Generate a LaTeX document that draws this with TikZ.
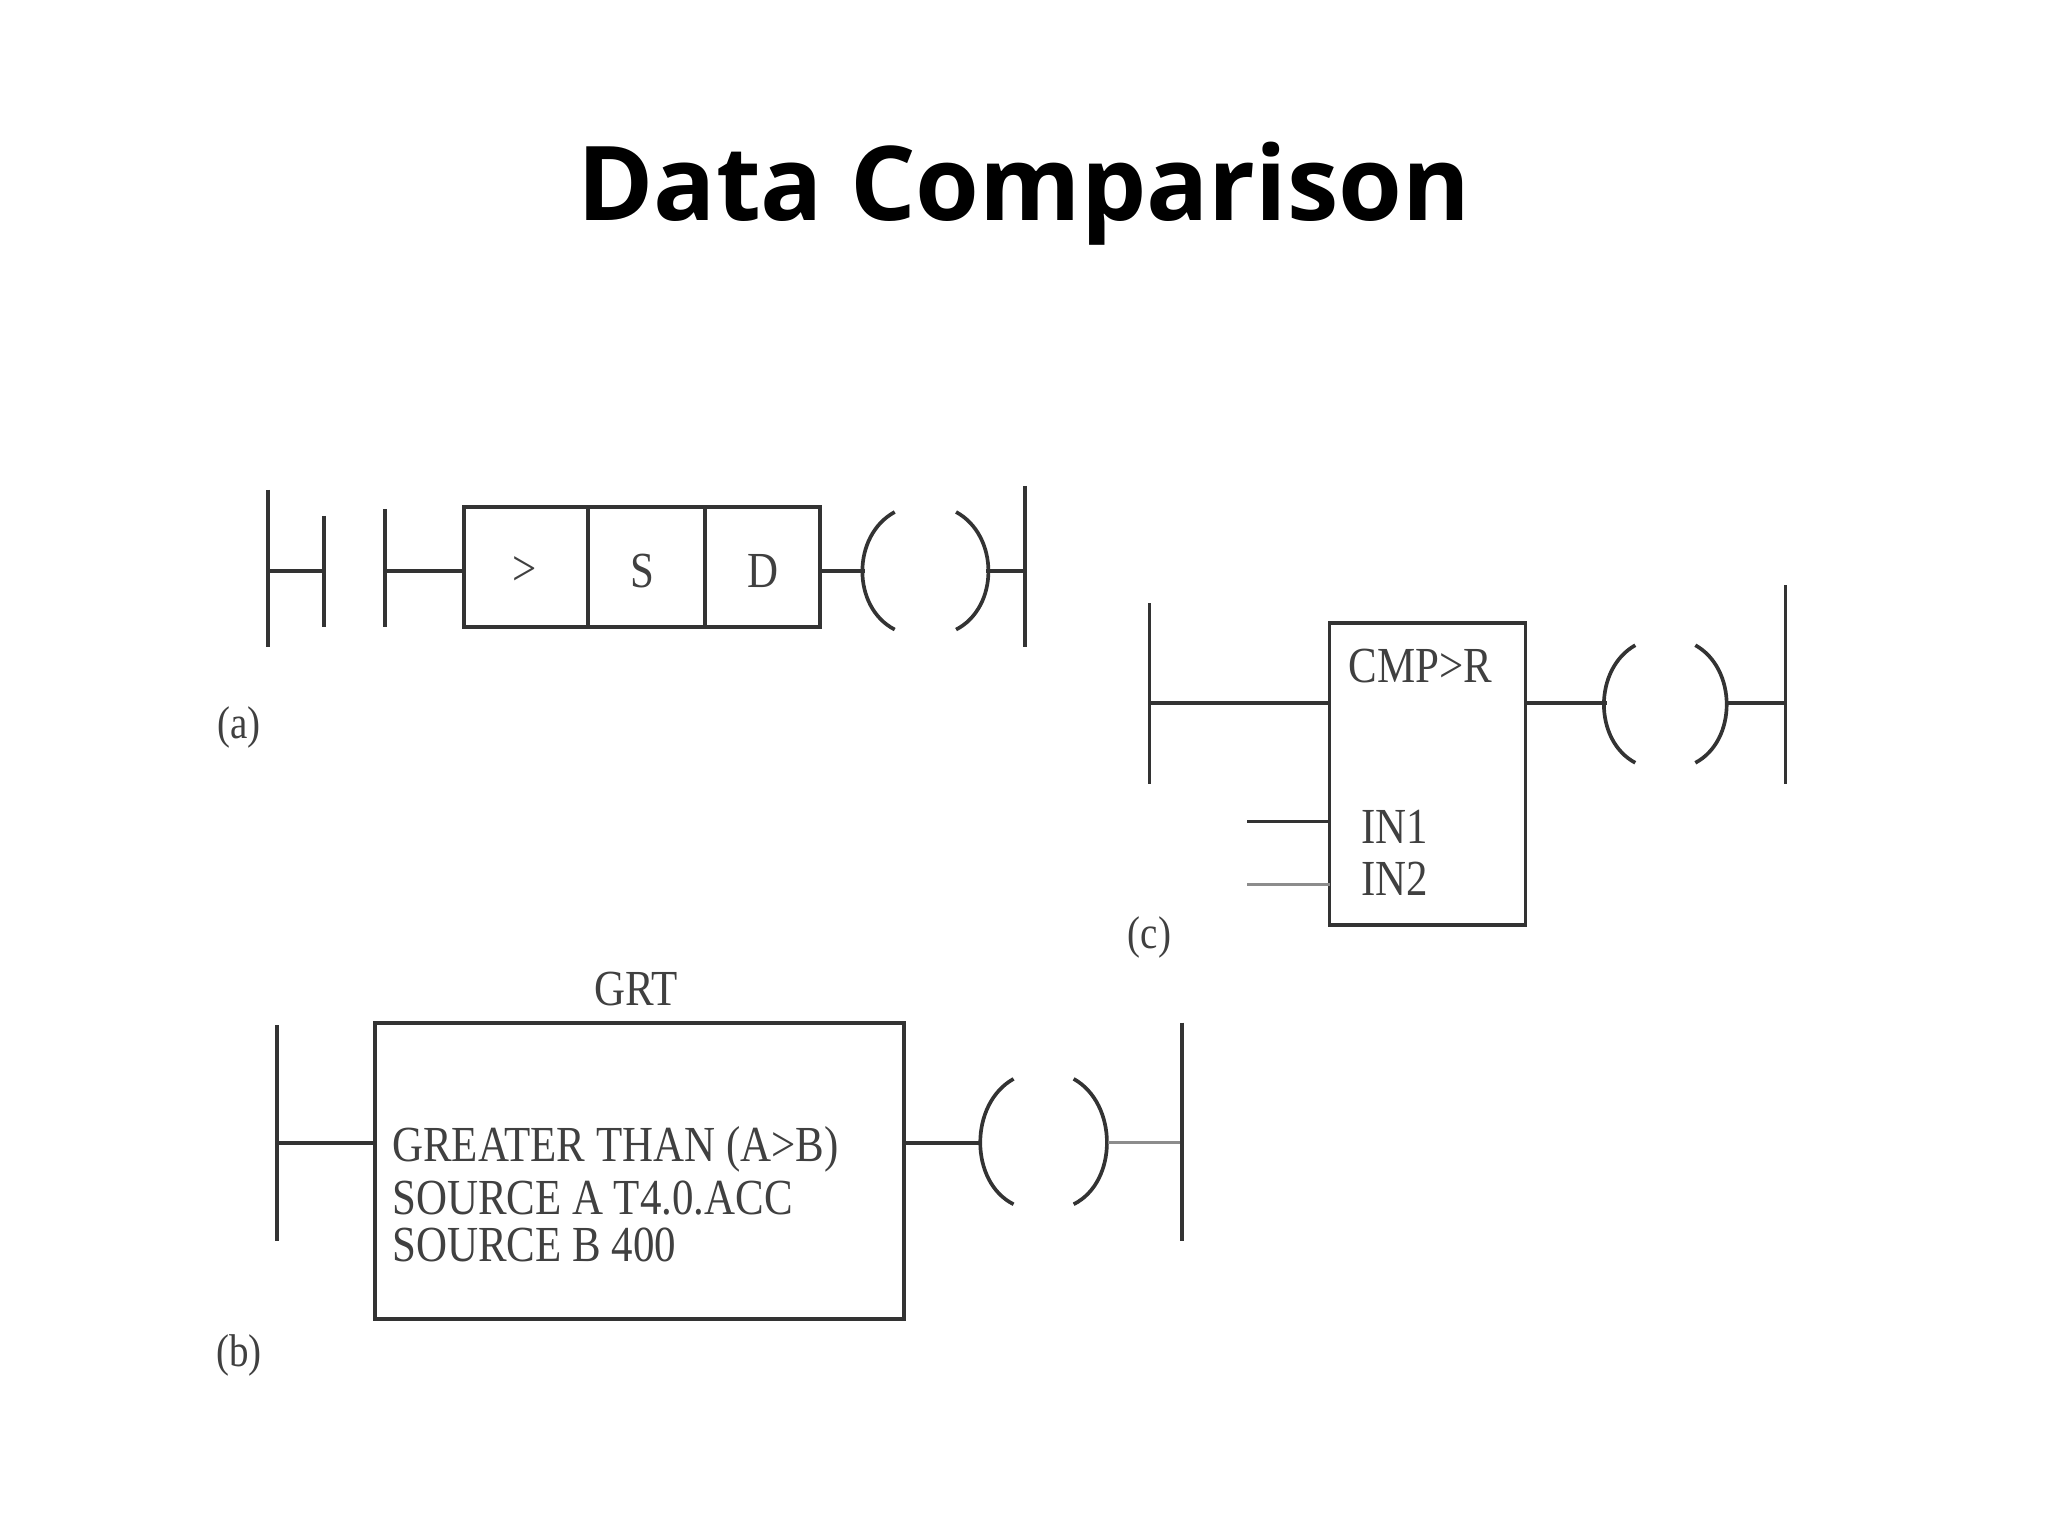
\documentclass[tikz,border=0pt]{standalone}
\usepackage{fontspec}
\setmainfont{Liberation Serif}
\newfontfamily\cond[FakeStretch=0.85]{Liberation Serif}
\newfontfamily\titlefont{Open Sans}
\begin{document}
\begin{tikzpicture}[x=0.02cm,y=-0.02cm,
  ln/.style={line width=1.6pt,draw=black!80},
  lt/.style={line width=1.2pt,draw=black!45},
  lbl/.style={font=\cond\fontsize{20}{22}\selectfont,text=black!75},
  txt/.style={font=\cond\fontsize{22}{24}\selectfont,text=black!75,inner sep=0pt}]
\useasboundingbox (0,0) rectangle (1568,1176);
\fill[white] (0,0) rectangle (1568,1176);
\node[font=\titlefont\bfseries\fontsize{45}{52}\selectfont] (title) at (784,148) {Data Comparison};
% (a)
\draw[ln] (205,375) -- (205,495);
\draw[ln] (205,437) -- (248,437);
\draw[ln] (248,395) -- (248,480);
\draw[ln] (295,390) -- (295,480);
\draw[ln] (295,437) -- (355,437);
\draw[ln] (355,388) rectangle (628,480);
\draw[ln] (450,388) -- (450,480);
\draw[ln] (540,388) -- (540,480);
\node[txt] at (402,437) {>};
\node[txt] at (492,437) {S};
\node[txt] at (584,437) {D};
\draw[ln] (628,437) -- (662,437);
\draw[ln] (685,392) .. controls (652,410) and (652,465) .. (685,482);
\draw[ln] (732,392) .. controls (765,410) and (765,465) .. (732,482);
\draw[ln] (755,437) -- (785,437);
\draw[ln] (785,372) -- (785,495);
\node[lbl] at (183,557) {(a)};
% (c)
\draw[ln] (880,462) -- (880,600);
\draw[ln] (880,538) -- (1018,538);
\draw[ln] (1018,477) rectangle (1168,708);
\node[txt,anchor=west] at (1032,510) {CMP>R};
\node[txt,anchor=west] at (1042,633) {IN1};
\node[txt,anchor=west] at (1042,673) {IN2};
\draw[ln] (955,629) -- (1018,629);
\draw[lt] (955,677) -- (1018,677);
\draw[ln] (1168,538) -- (1230,538);
\draw[ln] (1252,494) .. controls (1220,512) and (1220,567) .. (1252,584);
\draw[ln] (1298,494) .. controls (1330,512) and (1330,567) .. (1298,584);
\draw[ln] (1322,538) -- (1367,538);
\draw[ln] (1367,448) -- (1367,600);
\node[lbl] at (880,718) {(c)};
% (b)
\draw[ln] (212,785) -- (212,950);
\draw[ln] (212,875) -- (287,875);
\draw[ln] (287,783) rectangle (692,1010);
\node[txt] at (487,757) {GRT};
\node[txt,anchor=west] at (300,880) {GREATER THAN (A>B)};
\node[txt,anchor=west] at (300,917) {SOURCE A T4.0.ACC};
\node[txt,anchor=west] at (300,953) {SOURCE B 400};
\draw[ln] (692,875) -- (752,875);
\draw[ln] (776,826) .. controls (742,845) and (742,905) .. (776,922);
\draw[ln] (822,826) .. controls (856,845) and (856,905) .. (822,922);
\draw[lt] (848,875) -- (905,875);
\draw[ln] (905,783) -- (905,950);
\node[lbl] at (183,1038) {(b)};
\end{tikzpicture}
\end{document}
